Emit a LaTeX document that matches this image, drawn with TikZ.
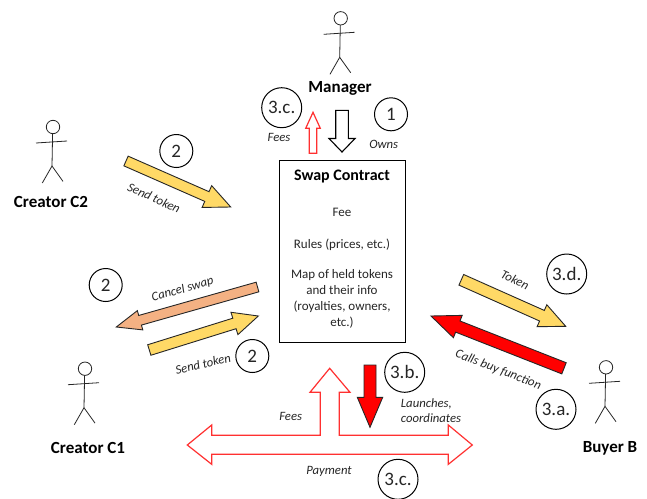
\documentclass[tikz,border=0pt]{standalone}
\usepackage{fontspec}
\setmainfont{Carlito}
\usetikzlibrary{calc}
\definecolor{ink}{HTML}{262626}
\definecolor{gold}{HTML}{FFD966}
\definecolor{salmon}{HTML}{F4B183}
\definecolor{pure}{HTML}{FF0000}
\definecolor{lightred}{HTML}{FF3030}
\tikzset{
  fatdark/.style={draw=ink,line width=0.9pt,line join=miter},
  goldarrow/.style={fatdark,fill=gold},
  salmonarrow/.style={fatdark,fill=salmon},
  redarrow/.style={fatdark,fill=pure},
  whitearrow/.style={draw=black,line width=1.1pt,fill=white},
  outlinered/.style={draw=lightred,line width=1.2pt,fill=white},
  numcircle/.style={draw=black,line width=1pt,circle,inner sep=0pt,font=\fontsize{19}{19}\selectfont,text=ink},
  smallcircle/.style={numcircle,minimum size=33pt},
  largecircle/.style={numcircle,minimum size=40pt},
  role/.style={font=\fontsize{17}{18}\selectfont\bfseries,text=black},
  boxtext/.style={font=\fontsize{13}{16}\selectfont,text=ink,align=center},
  note/.style={font=\fontsize{12.7}{15.3}\selectfont\itshape,text=ink},
  figline/.style={draw=ink,line width=0.8pt},
}
% style, tail, tip, shaft half width, head half width, head length
\newcommand\fatarrow[6]{%
  \coordinate (neck) at ($(#3)!#6pt!(#2)$);
  \draw[#1] ($(#2)!#4pt!90:(#3)$)
    -- ($(neck)!#4pt!-90:(#2)$)
    -- ($(neck)!#5pt!-90:(#2)$)
    -- (#3)
    -- ($(neck)!#5pt!90:(#2)$)
    -- ($(neck)!#4pt!90:(#2)$)
    -- ($(#2)!#4pt!-90:(#3)$) -- cycle;
}
\newcommand\stickfig[2]{%
  \begin{scope}[shift={(#1,#2)}]
    \draw[figline] (340.7,18.3) circle (6.7);
    \draw[figline] (323.7,34.3) -- (354.7,32.3);
    \draw[figline] (340.3,25) -- (339.7,57.3);
    \draw[figline] (330,74.3) -- (339.7,57.3) -- (350.7,72.7);
  \end{scope}
}
\begin{document}
\begin{tikzpicture}[x=1pt,y=-1pt]
\useasboundingbox (0,0) rectangle (647,498);
\fill[white] (0,0) rectangle (647,498);

% stick figures
\stickfig{0}{0}
\stickfig{-287.7}{108.7}
\stickfig{-255.7}{350.4}
\stickfig{265.3}{349}

% role labels
\node[role] (manager) at (340,88) {Manager};
\node[role] (c2) at (51,202) {Creator C2};
\node[role] (c1) at (88,448) {Creator C1};
\node[role] (buyer) at (610,448) {Buyer B};

% contract box
\node[draw=black,line width=1.1pt,minimum width=126pt,minimum height=182pt,inner sep=0pt] (contract) at (342.2,251.3) {};
\node[font=\fontsize{16}{18}\selectfont\bfseries] (title) at (342,177) {Swap Contract};
\node[boxtext] (fee) at (342,212) {Fee};
\node[boxtext] (rules) at (342,244.5) {Rules (prices, etc.)};
\node[boxtext] (map) at (342,299) {Map of held tokens\\and their info\\(royalties, owners,\\etc.)};

% end points of the block arrows
\coordinate (a1) at (126,161);   \coordinate (a2) at (230.7,207);
\coordinate (b1) at (257.5,287); \coordinate (b2) at (116.3,327);
\coordinate (c1a) at (149.3,350);\coordinate (c2a) at (258.3,316);
\coordinate (d1) at (461.3,279.8);\coordinate (d2) at (565.7,326.3);
\coordinate (e1) at (564,368.3); \coordinate (e2) at (431,316);
\coordinate (f1) at (370,365);   \coordinate (f2) at (370,427.3);
\coordinate (g1) at (342,110.3); \coordinate (g2) at (342,152);
\coordinate (h1) at (313,153.3); \coordinate (h2) at (313,112.3);

\fatarrow{goldarrow}{a1}{a2}{5.3}{11.9}{26}
\fatarrow{salmonarrow}{b1}{b2}{5}{10}{24.7}
\fatarrow{goldarrow}{c1a}{c2a}{5.5}{11.7}{25}
\fatarrow{goldarrow}{d1}{d2}{5.8}{12}{26}
\fatarrow{redarrow}{e1}{e2}{6}{12}{28.8}
\fatarrow{whitearrow}{g1}{g2}{6.3}{13}{13.5}
\fatarrow{outlinered}{h1}{h2}{3.7}{7.3}{16}

% three-headed outline arrow
\draw[outlinered] (329.7,368.3) -- (350,392.3) -- (339.3,392.3) -- (339.3,435.3)
  -- (448.3,435.3) -- (448.3,425) -- (472.3,445) -- (448.3,464.3) -- (448.3,454.3)
  -- (211.7,454.3) -- (211.7,464.3) -- (187.3,445) -- (211.7,425) -- (211.7,435.3)
  -- (320.3,435.3) -- (320.3,392.3) -- (310,392.3) -- cycle;
\fatarrow{redarrow}{f1}{f2}{6}{12.7}{30}

% circled numbers
\node[largecircle] (n3c) at (281.7,107.7) {3.c.};
\node[smallcircle] (n1) at (391,114.3) {1};
\node[smallcircle] (n2a) at (176.3,151) {2};
\node[smallcircle] (n2b) at (105.7,285) {2};
\node[smallcircle] (n2c) at (252.3,356) {2};
\node[largecircle] (n3b) at (404.7,372.3) {3.b.};
\node[largecircle] (n3cb) at (398,479.3) {3.c.};
\node[largecircle] (n3d) at (566.7,274) {3.d.};
\node[largecircle] (n3a) at (556,409.3) {3.a.};

% connector labels
\node[note,rotate=-24,inner sep=0pt] (l1) at (154,198) {Send token};
\node[note,rotate=16,inner sep=0pt] (l2) at (182.7,289.5) {Cancel swap};
\node[note,rotate=13,inner sep=0pt] (l3) at (203,364) {Send token};
\node[note,rotate=-25,inner sep=0pt] (l4) at (515,280) {Token};
\node[note,rotate=-21,inner sep=0pt] (l5) at (498.3,370) {Calls buy function};
\node[note,inner sep=0pt] (l6) at (279,137.7) {Fees};
\node[note,inner sep=0pt] (l7) at (383.7,144) {Owns};
\node[note,inner sep=0pt] (l8) at (290.7,416) {Fees};
\node[note,align=left,anchor=west,inner sep=0pt] (l9) at (400.7,410.5) {Launches,\\coordinates};
\node[note,inner sep=0pt] (l10) at (329,471) {Payment};
\end{tikzpicture}
\end{document}
